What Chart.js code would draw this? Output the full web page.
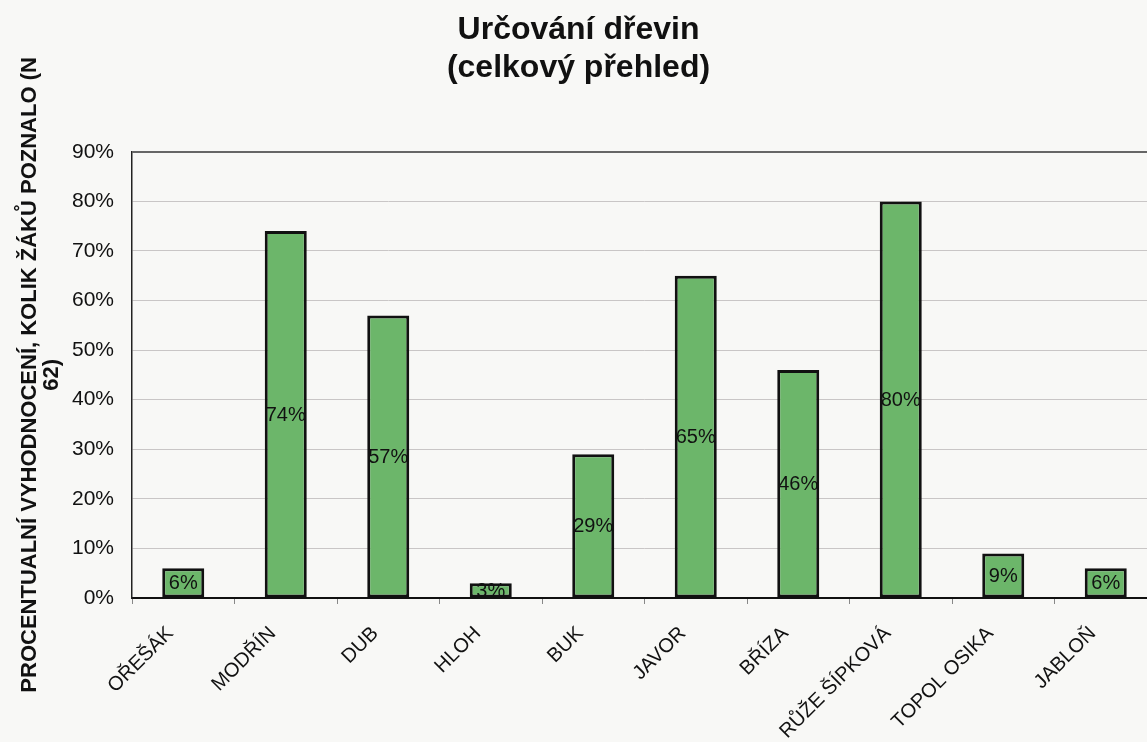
<!DOCTYPE html>
<html>
<head>
<meta charset="utf-8">
<script src="https://cdn.jsdelivr.net/npm/chart.js@4.4.1/dist/chart.umd.min.js"></script>
<style>
  html,body{margin:0;padding:0;background:#f8f8f6;overflow:hidden;}
  #wrap{width:1157px;height:742px;}
</style>
</head>
<body>
<div id="wrap"><canvas id="c" width="1157" height="742"></canvas></div>
<script>
// dřeviny a podíl žáků, kteří je poznali
const categories = ['OŘEŠÁK','MODŘÍN','DUB','HLOH','BUK','JAVOR','BŘÍZA','RŮŽE ŠÍPKOVÁ','TOPOL OSIKA','JABLOŇ'];
const values = [6, 74, 57, 3, 29, 65, 46, 80, 9, 6];
const yTitle = ['PROCENTUALNÍ VYHODNOCENÍ, KOLIK ŽÁKŮ POZNALO (N', '62)'];
const chartTitle = ['Určování dřevin', '(celkový přehled)'];

const FONT = '"Liberation Sans", Arial, sans-serif';

// popisky hodnot uprostřed sloupce
const barLabels = {
  id:'barLabels',
  afterDatasetsDraw(chart){
    const ctx = chart.ctx, meta = chart.getDatasetMeta(0);
    ctx.save();
    ctx.font = '20px ' + FONT;
    ctx.fillStyle = '#111';
    ctx.textAlign = 'center';
    ctx.textBaseline = 'middle';
    meta.data.forEach((el,i)=>{
      ctx.fillText(values[i] + '%', el.x, (el.y + el.base)/2 + 1);
    });
    ctx.restore();
  }
};

new Chart(document.getElementById('c'), {
  type:'bar',
  data:{
    labels: categories,
    datasets:[{
      data: values,
      backgroundColor:'#6cb66a',
      borderColor:'#111',
      borderWidth:3,
      borderSkipped:false,
      categoryPercentage:1,
      barPercentage:0.41
    }]
  },
  options:{
    responsive:false,
    animation:false,
    layout:{padding:{left:0,right:0,top:0,bottom:0}},
    plugins:{
      legend:{display:false},
      tooltip:{enabled:false},
      title:{
        display:true,
        text: chartTitle,
        color:'#111',
        font:{family:FONT,size:32,weight:'bold',lineHeight:1.2},
        padding:{top:11,bottom:64}
      }
    },
    scales:{
      x:{
        afterFit: s=>{ s.height = 144; },
        grid:{drawOnChartArea:false, drawTicks:true, tickLength:6, color:'#888'},
        border:{color:'#111', width:2},
        ticks:{
          color:'#111',
          font:{family:FONT,size:20},
          maxRotation:45, minRotation:45,
          padding:18,
          labelOffset:-13,
          autoSkip:false
        }
      },
      y:{
        min:0, max:90,
        afterFit: s=>{ s.width = 132; },
        grid:{
          drawTicks:false,
          color: c => c.tick && c.tick.value === 90 ? '#666' : '#c9c6c6',
          lineWidth: c => c.tick && c.tick.value === 90 ? 2 : 1
        },
        border:{color:'#222', width:1.5},
        ticks:{
          stepSize:10,
          color:'#111',
          padding:18,
          font:{family:FONT,size:21},
          callback: v => v + '%'
        },
        title:{
          display:true,
          text: yTitle,
          color:'#111',
          font:{family:FONT,size:22,weight:'bold',lineHeight:1.0},
          padding:{top:19,bottom:0}
        }
      }
    }
  },
  plugins:[barLabels]
});
</script>
</body>
</html>
